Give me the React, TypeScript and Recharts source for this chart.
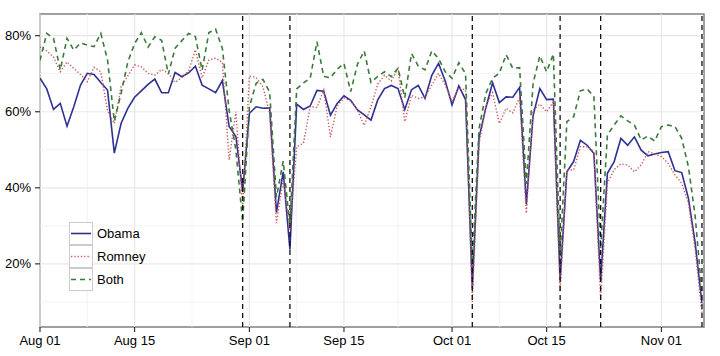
import React from 'react';
import { LineChart, Line, XAxis, YAxis, ReferenceLine, ReferenceArea, Legend } from 'recharts';

// Daily values, Aug 01 2012 (day 0) to Nov 07 2012 (day 98)
const obama = [
  68.8, 66.0, 60.6, 62.2, 56.2, 61.3, 67.0, 70.1, 69.8, 67.7,
  65.7, 49.1, 56.9, 60.9, 63.8, 65.5, 67.2, 68.6, 65.0, 65.0,
  70.3, 69.2, 70.2, 72.0, 67.0, 66.0, 65.0, 68.2, 56.1, 53.5,
  39.0, 59.6, 61.3, 60.9, 61.0, 33.5, 44.2, 23.7, 62.0, 60.6,
  61.5, 65.6, 65.4, 59.1, 62.2, 64.2, 63.0, 60.5, 59.2, 57.8,
  63.1, 66.1, 66.9, 66.1, 60.6, 65.8, 66.9, 63.5, 69.6, 72.7,
  68.0, 61.8, 66.8, 63.2, 13.6, 53.2, 61.0, 67.6, 62.4, 63.9,
  63.8, 66.4, 35.7, 59.0, 66.1, 63.2, 63.3, 15.8, 44.2, 46.9,
  52.5, 51.2, 49.0, 15.5, 43.8, 46.9, 53.0, 51.2, 53.4, 49.9,
  48.4, 48.9, 49.3, 49.5, 44.5, 44.0, 37.2, 25.4, 9.6,
];
const romney = [
  77.0, 76.0, 74.4, 70.5, 73.1, 71.4, 69.8, 67.9, 71.7, 70.5,
  60.2, 56.9, 66.6, 69.4, 72.3, 71.8, 70.1, 69.6, 71.1, 70.1,
  67.7, 69.0, 70.7, 76.3, 68.9, 73.6, 74.1, 73.0, 47.3, 60.0,
  35.0, 69.4, 69.0, 66.6, 59.6, 30.7, 42.0, 29.0, 50.8, 51.7,
  61.4, 61.1, 65.7, 53.4, 61.5, 63.6, 62.8, 60.4, 56.4, 61.3,
  67.3, 69.6, 68.1, 71.4, 57.4, 64.3, 63.5, 63.9, 67.0, 70.1,
  67.0, 62.7, 66.4, 65.7, 10.0, 51.5, 61.5, 65.0, 56.9, 60.9,
  59.7, 63.8, 33.3, 60.4, 62.0, 60.0, 62.6, 12.7, 44.7, 44.7,
  50.8, 50.8, 49.5, 10.5, 41.2, 44.8, 46.3, 46.0, 44.2, 46.0,
  49.5, 48.9, 48.2, 46.4, 43.4, 41.2, 35.9, 23.7, 7.0,
];
const both = [
  73.5, 80.6, 79.3, 71.0, 79.3, 76.2, 78.1, 77.5, 77.1, 80.6,
  73.6, 57.5, 64.8, 73.1, 77.9, 80.8, 77.0, 79.7, 78.8, 69.9,
  76.7, 78.7, 80.6, 79.8, 70.9, 80.8, 81.7, 76.6, 60.4, 49.9,
  31.0, 61.3, 67.5, 68.5, 65.2, 37.5, 47.0, 30.0, 66.0, 67.6,
  68.8, 78.4, 69.3, 68.9, 71.2, 72.7, 65.3, 72.5, 76.0, 67.7,
  69.3, 70.5, 69.2, 71.5, 63.7, 75.3, 72.0, 71.0, 76.0, 74.0,
  70.5, 68.8, 72.9, 70.0, 20.0, 55.6, 64.8, 68.8, 70.1, 75.0,
  71.4, 71.6, 41.0, 67.5, 74.7, 70.5, 75.2, 22.0, 57.4, 58.7,
  65.5, 66.0, 64.0, 24.0, 53.9, 56.5, 58.9, 57.6, 56.5, 52.6,
  53.6, 52.3, 56.1, 56.5, 56.1, 53.0, 45.5, 32.4, 12.0,
];

const tickDays = [0, 14, 31, 45, 61, 75, 92];
const tickLabels = ['Aug 01', 'Aug 15', 'Sep 01', 'Sep 15', 'Oct 01', 'Oct 15', 'Nov 01'];
const minorDays = [7, 22.5, 38, 53, 68, 83.5];
const eventDays = [30, 37, 64, 77, 83, 98];
const yTicks = [20, 40, 60, 80];
const yMinor = [10, 30, 50, 70];
const seriesNames = ['Obama', 'Romney', 'Both'];

const X_DOMAIN: [number, number] = [0, 98.3];
const Y_DOMAIN: [number, number] = [3.4, 85.7];
const FONT = '"Liberation Sans", Arial, Helvetica, sans-serif';

const data = obama.map((v, i) => ({ day: i, obama: v, romney: romney[i], both: both[i] }));

const styles = [
  { key: 'obama', color: '#2E3192', dash: undefined as string | undefined, width: 1.6 },
  { key: 'romney', color: '#CC5555', dash: '1.3 2', width: 1.4 },
  { key: 'both', color: '#3B7A3B', dash: '5 4', width: 1.6 },
];

const LegendBox = () => (
  <div style={{ fontFamily: FONT, fontSize: 13, color: '#000' }}>
    {seriesNames.map((name, i) => (
      <div key={name} style={{ display: 'flex', alignItems: 'center', height: 23 }}>
        <svg width={24} height={23} style={{ display: 'block' }}>
          <rect x={0.5} y={0.5} width={23} height={22} fill="#fff" stroke="#cccccc" strokeWidth={1} />
          <line x1={2} x2={22} y1={11.5} y2={11.5} stroke={styles[i].color} strokeWidth={styles[i].width}
            strokeDasharray={styles[i].dash} />
        </svg>
        <span style={{ marginLeft: 4, lineHeight: '23px' }}>{name}</span>
      </div>
    ))}
  </div>
);

export default function App() {
  return (
    <div style={{ position: 'absolute', left: 0, top: 0, width: 720, height: 356, background: '#fff' }}>
      <LineChart width={720} height={356} data={data} margin={{ top: 14, right: 16, left: 0, bottom: 0 }}>
        {yMinor.map((v) => (
          <ReferenceLine key={'ym' + v} y={v} stroke="#f3f3f3" strokeWidth={1} />
        ))}
        {minorDays.map((v) => (
          <ReferenceLine key={'xm' + v} x={v} stroke="#f3f3f3" strokeWidth={1} />
        ))}
        {yTicks.map((v) => (
          <ReferenceLine key={'yg' + v} y={v} stroke="#e8e8e8" strokeWidth={1.2} />
        ))}
        {tickDays.map((v) => (
          <ReferenceLine key={'xg' + v} x={v} stroke="#e8e8e8" strokeWidth={1.2} />
        ))}
        <XAxis
          dataKey="day"
          type="number"
          domain={X_DOMAIN}
          allowDataOverflow
          ticks={tickDays}
          tickFormatter={(v: number) => tickLabels[tickDays.indexOf(v)] ?? ''}
          axisLine={false}
          tickLine={{ stroke: '#333', strokeWidth: 1.2 }}
          tickSize={5}
          tickMargin={4}
          height={29}
          tick={{ fill: '#000', fontSize: 13, fontFamily: FONT }}
          interval={0}
        />
        <YAxis
          type="number"
          domain={Y_DOMAIN}
          allowDataOverflow
          ticks={yTicks}
          tickFormatter={(v: number) => `${v}%`}
          axisLine={false}
          tickLine={{ stroke: '#333', strokeWidth: 1.2 }}
          tickSize={5}
          tickMargin={4}
          width={40}
          tick={{ fill: '#000', fontSize: 13, fontFamily: FONT }}
          interval={0}
        />
        {styles.map((s) => (
          <Line
            key={s.key}
            type="linear"
            dataKey={s.key}
            stroke={s.color}
            strokeWidth={s.width}
            strokeDasharray={s.dash}
            dot={false}
            activeDot={false}
            isAnimationActive={false}
          />
        ))}
        {eventDays.map((v) => (
          <ReferenceLine key={'ev' + v} x={v} stroke="#111" strokeWidth={1.3} strokeDasharray="5 4" />
        ))}
        <ReferenceArea x1={X_DOMAIN[0]} x2={X_DOMAIN[1]} y1={Y_DOMAIN[0]} y2={Y_DOMAIN[1]}
          fill="none" fillOpacity={0} stroke="#808080" strokeWidth={1.5} />
        <Legend
          layout="horizontal"
          align="center"
          verticalAlign="middle"
          content={() => <LegendBox />}
          wrapperStyle={{ position: 'absolute', left: 69, top: 222, width: 120, height: 70 }}
        />
      </LineChart>
    </div>
  );
}
